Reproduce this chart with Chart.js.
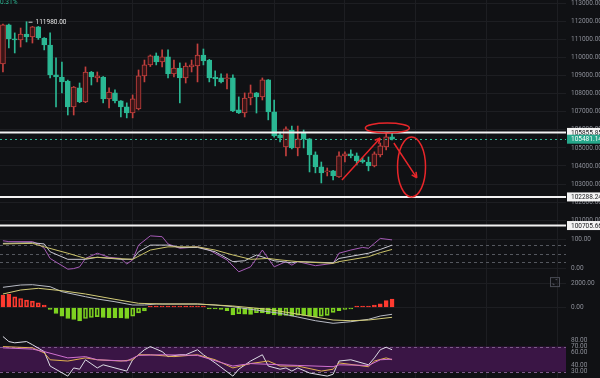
<!DOCTYPE html>
<html>
<head>
<meta charset="utf-8">
<script src="https://cdn.jsdelivr.net/npm/chart.js@4.4.1/dist/chart.umd.min.js"></script>
<style>
  html, body { margin: 0; padding: 0; background: #101114; }
  #wrap { width: 600px; height: 378px; position: relative; }
</style>
</head>
<body>
<div id="wrap"><canvas id="btcChart"></canvas></div>
<script>
// Candles
const candleOpen  = [109640,111800,111030,110970,111300,111140,111690,111080,110690,109040,108920,108700,107270,108320,107540,109200,108870,108920,107710,108040,107600,107270,106930,107150,108980,109590,110090,109750,110030,109090,109420,108870,109480,109530,110140,109860,108920,108870,108810,108870,107100,106930,107760,108040,107820,108760,106990,105720,105050,105990,105000,105830,105500,104610,103950,103670,103730,103390,104560,104670,104560,104330,104220,104000,104610,105050,105610];
const candleHigh  = [111850,111850,111360,111630,111980,111720,111720,111100,111360,109980,109750,108750,108400,108590,109480,109230,109200,108950,108320,108210,107620,107490,107930,109310,109860,110140,110250,110420,110420,109860,109700,109700,109860,110750,110470,109900,109260,109090,109090,109040,107820,108040,108480,108070,108870,108780,107650,105880,106160,106210,106210,105990,105520,104780,104220,103890,103760,104780,104780,104890,104720,104450,104500,104780,105270,105830,105830];
const candleLow   = [109200,110530,110250,110580,110860,110800,111000,110420,108870,107270,108040,106820,106820,107500,107500,108480,108650,107490,107210,107490,106710,106660,106660,107100,108650,109500,109590,109480,108870,108920,107490,108590,109200,108650,109590,108650,108430,108590,108260,107000,106900,106710,107380,106930,107650,106550,105600,105330,104560,104950,104560,105000,103670,103620,103060,103450,103230,103370,104220,104450,104060,104160,103730,103950,104500,104890,105440];
const candleClose = [111800,111030,110970,111300,111140,111690,111080,110690,109040,108920,108650,107270,108370,107540,109200,108920,108980,107710,108090,107600,107270,106930,107710,108980,109590,110090,109750,110030,109090,109420,108870,109530,109590,110140,109810,108870,108810,108650,108870,107040,106930,107760,108040,107820,108760,106990,105660,105550,106050,105000,105500,105500,104610,103950,103620,103730,103450,104560,104670,104560,104280,104220,104000,104670,105110,105610,105481.14];

const slotCount = 96;
const priceTicks = [101000,102000,103000,104000,105000,106000,107000,108000,109000,110000,111000,112000,113000];
const priceLines = [105855.85, 102288.24, 100705.66];
const lastPrice = 105481.14;
const highMark = { index: 4, value: 111980.00 };

// KDJ pane: [candle index, value]
const kdjTicks = [0, 100];
const kdjLevels = [80, 50, 20];
const kdjK = [[0,85],[5,87],[7,83],[8,56],[11,30],[14,30],[16,37],[20,30],[22,30],[23,56],[25,79],[28,79],[30,71],[33,71],[36,56],[39,22],[41,25],[43,45],[46,25],[49,18],[50,22],[56,18],[57,33],[62,51],[64,64],[66,79]];
const kdjD = [[0,83],[5,85],[7,73],[11,51],[14,33],[16,37],[19,33],[22,30],[25,62],[28,73],[33,73],[36,62],[39,45],[42,30],[45,33],[47,28],[50,22],[56,16],[57,22],[62,39],[64,53],[66,64]];
const kdjJ = [[0,94],[1,91],[5,91],[6,83],[7,68],[8,33],[11,-4],[12,-2],[13,4],[14,33],[16,51],[18,37],[20,33],[21,14],[22,28],[23,79],[25,111],[27,108],[28,83],[30,68],[33,73],[35,62],[37,39],[38,28],[40,-13],[42,4],[44,62],[45,33],[46,4],[48,22],[49,10],[50,22],[53,8],[56,16],[57,51],[59,62],[61,71],[62,68],[63,85],[64,102],[66,97]];

// MACD pane
const macdTicks = [0, 2000];
const macdHist = [1010,1090,875,740,600,520,380,200,-160,-490,-710,-900,-980,-1090,-900,-820,-750,-820,-830,-840,-850,-900,-700,-440,-270,60,80,70,90,80,60,70,50,40,20,-60,-120,-150,-250,-600,-500,-550,-560,-420,-450,-520,-600,-650,-640,-700,-620,-650,-700,-760,-700,-640,-400,-250,-150,-100,40,60,80,200,300,560,700];
const macdDif = [[0,1656],[3,1844],[5,1869],[8,1705],[10,1295],[14,885],[16,697],[19,475],[22,205],[24,205],[26,287],[33,287],[36,205],[39,66],[42,-148],[45,-344],[47,-475],[50,-780],[53,-1082],[56,-1295],[59,-1164],[62,-967],[64,-697],[66,-557]];
const macdDea = [[0,1107],[3,1434],[6,1574],[10,1377],[14,1107],[19,672],[23,344],[27,287],[33,287],[39,123],[45,-148],[50,-540],[56,-1025],[59,-1082],[62,-1025],[66,-803]];

// RSI pane
const rsiTicks = [30, 40, 60, 70, 80];
const rsiBand = [30, 70];
const rsiFast = [[0,86],[1,78],[2,76],[4,78],[5,73],[7,62],[8,39],[11,23],[12,36],[13,34],[14,49],[16,36],[17,41],[19,36],[21,31],[22,49],[24,65],[25,70],[27,62],[28,54],[30,57],[31,57],[33,65],[34,57],[36,44],[39,23],[40,34],[42,47],[44,57],[45,39],[47,34],[48,36],[49,31],[50,36],[52,28],[55,23],[56,26],[57,47],[59,49],[62,41],[63,52],[64,65],[65,69],[66,65]];
const rsiMid = [[0,70],[5,68],[7,60],[8,49],[11,47],[14,52],[16,49],[20,47],[22,49],[23,57],[25,57],[29,54],[33,57],[36,49],[39,36],[42,43],[45,47],[47,39],[50,39],[54,31],[56,34],[57,44],[62,38],[63,47],[65,52],[66,49]];
const rsiSlow = [[0,68],[5,66],[7,62],[11,52],[14,54],[16,49],[21,47],[23,56],[27,57],[33,56],[39,39],[42,43],[47,41],[50,40],[56,38],[57,41],[62,40],[64,49],[66,50]];

// colours
const BG = '#101114';
const GRID = '#1d1e22';
const fallColor = '#2bb894';
const riseColor = '#c4403e';
const riseFill = '#3a1517';
const TICK = '#8b8e97';

const slotLabels = [...Array(slotCount).keys()];
const isRise = candleOpen.map((o, i) => candleClose[i] > o);
const wickData = candleLow.map((l, i) => [l, candleHigh[i]]);
const bodyData = candleOpen.map((o, i) => [Math.min(o, candleClose[i]), Math.max(o, candleClose[i])]);
const toPts = arr => arr.map(([x, y]) => ({ x, y }));

// MACD bars: filled when growing, hollow when shrinking
const histFill = macdHist.map((v, i) => {
    const prev = i > 0 ? macdHist[i - 1] : 0;
    if (v >= 0) return v >= prev ? '#ff3b30' : 'rgba(255,59,48,0.18)';
    return v <= prev ? '#7ed321' : 'rgba(126,211,33,0.15)';
});
const histBorder = macdHist.map(v => v >= 0 ? '#ff3b30' : '#7ed321');

Chart.defaults.font.family = 'Roboto';
Chart.defaults.font.size = 6.5;

function paneAxis(min, max, weight, tickVals, gridColor) {
    return {
        position: 'right',
        stack: 'panes',
        stackWeight: weight,
        min: min,
        max: max,
        border: { display: false },
        grid: { color: gridColor, drawTicks: false },
        ticks: {
            color: TICK,
            padding: 5,
            autoSkip: false,
            callback: v => Number(v).toFixed(2)
        },
        afterBuildTicks: s => { s.ticks = tickVals.map(v => ({ value: v })); },
        afterFit: s => {
            s.width = 34;
            s.paddingTop = 0;
            s.paddingBottom = 0;
        }
    };
}

function drawArrow(ctx, x1, y1, x2, y2) {
    const a = Math.atan2(y2 - y1, x2 - x1);
    ctx.beginPath();
    ctx.moveTo(x1, y1);
    ctx.lineTo(x2, y2);
    ctx.moveTo(x2, y2);
    ctx.lineTo(x2 - 6 * Math.cos(a - 0.45), y2 - 6 * Math.sin(a - 0.45));
    ctx.moveTo(x2, y2);
    ctx.lineTo(x2 - 6 * Math.cos(a + 0.45), y2 - 6 * Math.sin(a + 0.45));
    ctx.stroke();
}

function labelBox(ctx, x, y, text, fill, color) {
    ctx.fillStyle = fill;
    ctx.fillRect(x, y - 4.5, 600 - x, 9);
    ctx.fillStyle = color;
    ctx.textAlign = 'left';
    ctx.textBaseline = 'middle';
    ctx.fillText(text, x + 4, y + 0.5);
}

const paneDecor = {
    id: 'paneDecor',
    beforeDraw(chart) {
        const { ctx, width, height } = chart;
        ctx.save();
        ctx.fillStyle = BG;
        ctx.fillRect(0, 0, width, height);
        ctx.restore();
    },
    beforeDatasetsDraw(chart) {
        const { ctx, chartArea } = chart;
        const rsi = chart.scales.rsi, kdj = chart.scales.kdj;
        ctx.save();
        // RSI band
        const yTop = rsi.getPixelForValue(rsiBand[1]);
        const yBot = rsi.getPixelForValue(rsiBand[0]);
        ctx.fillStyle = '#3a1545';
        ctx.fillRect(chartArea.left, yTop, chartArea.width, yBot - yTop);
        ctx.setLineDash([3, 3]);
        ctx.lineWidth = 1;
        ctx.strokeStyle = '#7d5a8a';
        rsiBand.forEach(v => {
            const y = Math.round(rsi.getPixelForValue(v)) + 0.5;
            ctx.beginPath(); ctx.moveTo(chartArea.left, y); ctx.lineTo(chartArea.right, y); ctx.stroke();
        });
        // KDJ levels
        ctx.strokeStyle = '#55585f';
        kdjLevels.forEach(v => {
            const y = Math.round(kdj.getPixelForValue(v)) + 0.5;
            ctx.beginPath(); ctx.moveTo(chartArea.left, y); ctx.lineTo(chartArea.right, y); ctx.stroke();
        });
        ctx.restore();
    },
    afterDatasetsDraw(chart) {
        const { ctx, chartArea } = chart;
        const x = chart.scales.x, p = chart.scales.price;
        ctx.save();
        // last price dotted line
        ctx.strokeStyle = fallColor;
        ctx.setLineDash([2, 3]);
        ctx.lineWidth = 1;
        let y = Math.round(p.getPixelForValue(lastPrice)) + 0.5;
        ctx.beginPath(); ctx.moveTo(chartArea.left, y); ctx.lineTo(chartArea.right, y); ctx.stroke();
        ctx.setLineDash([]);
        // horizontal key levels
        ctx.strokeStyle = '#f2f2f2';
        ctx.lineWidth = 2;
        priceLines.forEach(v => {
            const yy = p.getPixelForValue(v);
            ctx.beginPath(); ctx.moveTo(chartArea.left, yy); ctx.lineTo(chartArea.right, yy); ctx.stroke();
        });
        // hand drawn marks
        ctx.strokeStyle = '#e8262a';
        ctx.lineWidth = 1.5;
        ctx.beginPath();
        ctx.ellipse(x.getPixelForValue(65.2), p.getPixelForValue(106100), 22, 5, 0, 0, Math.PI * 2);
        ctx.stroke();
        ctx.beginPath();
        ctx.ellipse(x.getPixelForValue(69.3), p.getPixelForValue(103950), 14, 30, 0, 0, Math.PI * 2);
        ctx.stroke();
        drawArrow(ctx, x.getPixelForValue(57.5), p.getPixelForValue(103230), x.getPixelForValue(64), p.getPixelForValue(105550));
        drawArrow(ctx, x.getPixelForValue(66.3), p.getPixelForValue(105270), x.getPixelForValue(70.2), p.getPixelForValue(103340));
        // high marker
        const hx = x.getPixelForValue(highMark.index) + 2;
        const hy = p.getPixelForValue(highMark.value);
        ctx.strokeStyle = '#d0d0d0';
        ctx.lineWidth = 1;
        ctx.beginPath(); ctx.moveTo(hx, hy + 0.5); ctx.lineTo(hx + 4, hy + 0.5); ctx.stroke();
        ctx.font = '6.5px Roboto';
        ctx.fillStyle = '#e6e6e6';
        ctx.textBaseline = 'middle';
        ctx.fillText(highMark.value.toFixed(2), hx + 7, hy + 0.5);
        ctx.restore();
    },
    afterDraw(chart) {
        const { ctx, chartArea } = chart;
        const p = chart.scales.price, m = chart.scales.macd;
        ctx.save();
        ctx.font = '6.5px Roboto';
        const bx = chartArea.right + 1;
        priceLines.forEach(v => labelBox(ctx, bx, p.getPixelForValue(v), v.toFixed(2), '#f4f4f4', '#16171a'));
        labelBox(ctx, bx, p.getPixelForValue(lastPrice), lastPrice.toFixed(2), '#26a68a', '#ffffff');
        // change text
        ctx.fillStyle = fallColor;
        ctx.textAlign = 'left';
        ctx.textBaseline = 'alphabetic';
        ctx.fillText('0.31%', 0, 4);
        // expand icon
        const iy = m.getPixelForValue(2000) - 6;
        ctx.strokeStyle = '#4a4c55';
        ctx.lineWidth = 1;
        ctx.strokeRect(chartArea.right - 15.5, iy + 0.5, 9, 9);
        ctx.beginPath();
        ctx.moveTo(chartArea.right - 13, iy + 6); ctx.lineTo(chartArea.right - 13, iy + 7.5); ctx.lineTo(chartArea.right - 11.5, iy + 7.5);
        ctx.moveTo(chartArea.right - 9, iy + 3); ctx.lineTo(chartArea.right - 9, iy + 2.5); ctx.lineTo(chartArea.right - 10.5, iy + 2.5);
        ctx.stroke();
        ctx.restore();
    }
};

const lineSet = (pts, axis, color) => ({
    type: 'line',
    data: toPts(pts),
    yAxisID: axis,
    borderColor: color,
    borderWidth: 1,
    pointRadius: 0,
    tension: 0,
    fill: false
});

new Chart(document.getElementById('btcChart'), {
    type: 'bar',
    data: {
        labels: slotLabels,
        datasets: [
            {
                data: wickData,
                yAxisID: 'price',
                backgroundColor: isRise.map(r => r ? riseColor : fallColor),
                barThickness: 1,
                grouped: false,
                order: 3
            },
            {
                data: bodyData,
                yAxisID: 'price',
                backgroundColor: isRise.map(r => r ? riseFill : fallColor),
                borderColor: isRise.map(r => r ? riseColor : fallColor),
                borderWidth: 1,
                borderSkipped: false,
                barThickness: 5,
                minBarLength: 1,
                grouped: false,
                order: 2
            },
            {
                data: macdHist,
                yAxisID: 'macd',
                backgroundColor: histFill,
                borderColor: histBorder,
                borderWidth: 1,
                borderSkipped: false,
                barThickness: 4,
                minBarLength: 1.5,
                grouped: false,
                order: 3
            },
            lineSet(kdjD, 'kdj', '#cbc36a'),
            lineSet(kdjK, 'kdj', '#c9c9d3'),
            lineSet(kdjJ, 'kdj', '#a55ab6'),
            lineSet(macdDea, 'macd', '#d4cd78'),
            lineSet(macdDif, 'macd', '#b8bbc5'),
            lineSet(rsiSlow, 'rsi', '#d070d0'),
            lineSet(rsiMid, 'rsi', '#e0b050'),
            lineSet(rsiFast, 'rsi', '#dcdce4')
        ]
    },
    options: {
        responsive: true,
        maintainAspectRatio: false,
        animation: false,
        events: [],
        layout: { padding: 0 },
        plugins: {
            legend: { display: false },
            tooltip: { enabled: false }
        },
        scales: {
            x: {
                type: 'category',
                offset: true,
                border: { display: false },
                grid: {
                    offset: false,
                    drawTicks: false,
                    color: c => (c.index % 12 === 10 ? GRID : 'rgba(0,0,0,0)')
                },
                ticks: { display: false, autoSkip: false },
                afterFit: s => {
                    s.height = 0;
                    s.paddingLeft = 0;
                    s.paddingRight = 0;
                }
            },
            price: paneAxis(100570, 113180, 228, priceTicks, GRID),
            kdj: paneAxis(-31, 138, 49, kdjTicks, GRID),
            macd: paneAxis(-1925, 2500, 54, macdTicks, GRID),
            rsi: paneAxis(20, 94.8, 47, rsiTicks, 'rgba(0,0,0,0)')
        }
    },
    plugins: [paneDecor]
});
</script>
</body>
</html>
